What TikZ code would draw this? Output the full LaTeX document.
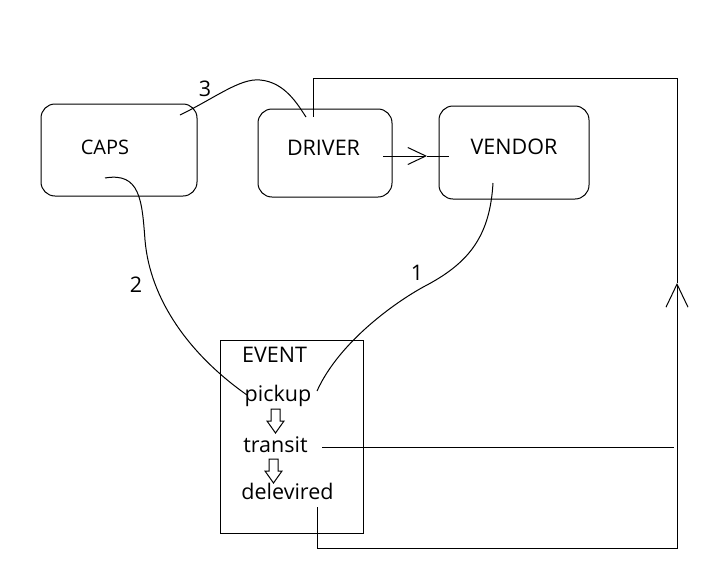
\documentclass[tikz,border=0pt]{standalone}
\usepackage{fontspec}
\setmainfont{Open Sans}
\usetikzlibrary{arrows.meta}
\begin{document}
\begin{tikzpicture}[x=1pt,y=-1pt,line width=1pt,
  box/.style={draw,rounded corners=14pt,inner sep=0pt},
  txt/.style={anchor=base,inner sep=0pt,font=\fontsize{21.5}{25}\selectfont},
  barb/.style={-{Straight Barb[length=18pt,width=17pt]}}]
  \useasboundingbox (0,0) rectangle (705,587);
  \node[box,minimum width=156pt,minimum height=92pt] (caps) at (119,150) {};
  \node[box,minimum width=134pt,minimum height=88pt] (driver) at (325,153) {};
  \node[box,minimum width=150pt,minimum height=93pt] (vendor) at (514,152.5) {};
  \node[draw,inner sep=0pt,minimum width=143pt,minimum height=193pt] (event) at (291.5,436.5) {};
  \node[txt,font=\fontsize{20}{24}\selectfont] (capst) at (105,154) {CAPS};
  \node[txt] (drivert) at (323.5,155) {DRIVER};
  \node[txt] (vendort) at (514,154) {VENDOR};
  \node[txt] (eventt) at (274.5,362) {EVENT};
  \node[txt] (pickup) at (278,401) {pickup};
  \node[txt] (transit) at (275.5,452) {transit};
  \node[txt] (deliv) at (287.5,499) {delevired};
  \node[txt] (n3) at (205,96) {3};
  \node[txt] (n2) at (136,292) {2};
  \node[txt] (n1) at (417,280) {1};
  \coordinate (c3a) at (180,115);
  \coordinate (c3b) at (260,80);
  \coordinate (c3c) at (306,117);
  \coordinate (c2a) at (105,178);
  \coordinate (c2b) at (145,240);
  \coordinate (c2c) at (247,395);
  \coordinate (c1a) at (493,183);
  \coordinate (c1b) at (427,285);
  \coordinate (c1c) at (317,391);
  \draw (c3a) .. controls (215,98) and (240,78) .. (c3b)
    .. controls (285,82) and (298,105) .. (c3c);
  \draw (c2a) .. controls (140,172) and (142,200) .. (c2b)
    .. controls (150,300) and (190,355) .. (c2c);
  \draw (c1a) .. controls (490,235) and (470,262) .. (c1b)
    .. controls (400,299) and (340,340) .. (c1c);
  \coordinate (dv1) at (383,156);
  \coordinate (dv2) at (427,156);
  \coordinate (dv3) at (449,156);
  \draw[barb] (dv1) -- (dv2);
  \draw (dv2) -- (dv3);
  \coordinate (lp1) at (317,507);
  \coordinate (lp3) at (677,548);
  \coordinate (lp4) at (677,283);
  \coordinate (lp6) at (313,78);
  \coordinate (lp7) at (313,117);
  \draw[-{Straight Barb[length=23pt,width=22pt]}] (lp1) |- (lp3) -- (lp4);
  \draw (lp4) |- (lp6) -- (lp7);
  \coordinate (tr1) at (322,447);
  \coordinate (tr2) at (674,447);
  \draw (tr1) -- (tr2);
  \foreach \x/\y in {275.5/409,273.5/459}
    \draw (\x-4.5,\y) -- ++(9,0) -- ++(0,12) -- ++(4,0) -- (\x,\y+24)
      -- (\x-8.5,\y+12) -- ++(4,0) -- cycle;
\end{tikzpicture}
\end{document}
